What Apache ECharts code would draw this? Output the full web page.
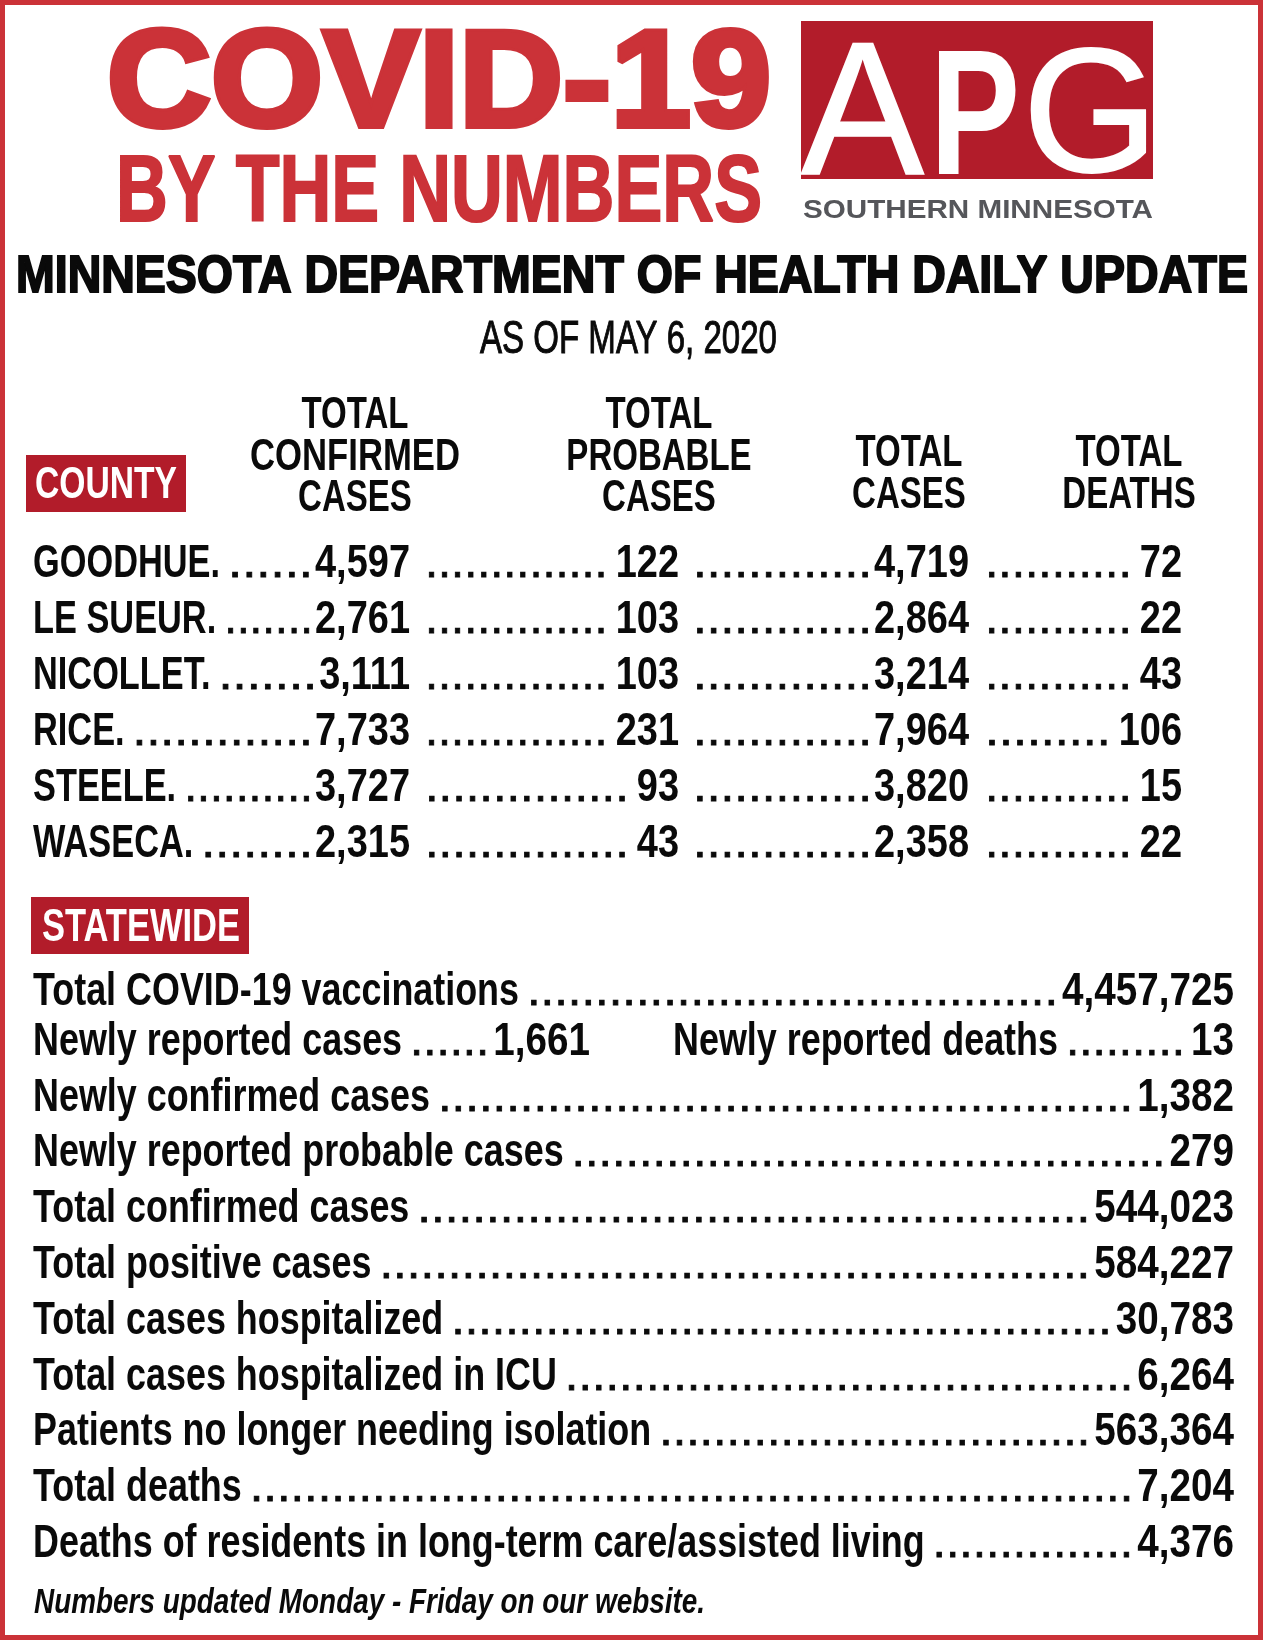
<!DOCTYPE html>
<html>
<head>
<meta charset="utf-8">
<title>COVID-19 by the numbers</title>
<script src="https://cdn.jsdelivr.net/npm/echarts@6/dist/echarts.min.js"></script>
<style>
html, body { margin: 0; padding: 0; background: #fff; }
#main { width: 1263px; height: 1640px; }
</style>
</head>
<body>
<div id="main"></div>
<script>
// county table
var counties = ['GOODHUE.', 'LE SUEUR.', 'NICOLLET.', 'RICE.', 'STEELE.', 'WASECA.'];
var confirmedCases = [4597, 2761, 3111, 7733, 3727, 2315];
var probableCases = [122, 103, 103, 231, 93, 43];
var totalCases = [4719, 2864, 3214, 7964, 3820, 2358];
var totalDeaths = [72, 22, 43, 106, 15, 22];
var columnHeaders = [
    ['TOTAL', 'CONFIRMED', 'CASES'],
    ['TOTAL', 'PROBABLE', 'CASES'],
    ['TOTAL', 'CASES'],
    ['TOTAL', 'DEATHS']
];

// statewide list
var statLabels = [
    'Total COVID-19 vaccinations',
    'Newly reported cases',
    'Newly confirmed cases',
    'Newly reported probable cases',
    'Total confirmed cases',
    'Total positive cases',
    'Total cases hospitalized',
    'Total cases hospitalized in ICU',
    'Patients no longer needing isolation',
    'Total deaths',
    'Deaths of residents in long-term care/assisted living'
];
var statValues = [4457725, 1661, 1382, 279, 544023, 584227, 30783, 6264, 563364, 7204, 4376];
var newDeathsLabel = 'Newly reported deaths';
var newDeathsValue = 13;

var RED = '#cb3238';
var DARK_RED = '#b21c2a';
var INK = '#0a0a0a';
var ROW_FONT = "bold 47px 'Liberation Sans'";
var DOT_FONT = "47px 'Liberation Sans'";

var measureCtx = document.createElement('canvas').getContext('2d');

function textWidth(text, font) {
    measureCtx.font = font;
    return measureCtx.measureText(text).width;
}

function num(v) {
    return v.toLocaleString('en-US');
}

// text anchored at x and cap-centre y, squeezed horizontally by scale
function textEl(text, x, y, font, scale, fill, align, stroke) {
    var size = parseFloat(font.match(/([\d.]+)px/)[1]);
    return {
        type: 'text',
        x: x,
        y: y + size * 0.06,
        scaleX: scale,
        silent: true,
        style: {
            text: text,
            font: font,
            fill: fill || INK,
            align: align || 'left',
            verticalAlign: 'middle',
            stroke: stroke ? (fill || INK) : null,
            lineWidth: stroke || 0
        }
    };
}

function fitEl(text, xLeft, xRight, y, font, fill, stroke) {
    return textEl(text, (xLeft + xRight) / 2, y, font, (xRight - xLeft) / textWidth(text, font), fill, 'center', stroke);
}

// row of dots that fills start..end
function leaderEl(start, end, y, pitch) {
    var count = Math.max(1, Math.round((end - start) / pitch));
    var dots = new Array(count + 1).join('.');
    return textEl(dots, end, y, DOT_FONT, (end - start) / textWidth(dots, DOT_FONT), INK, 'right', 0.8);
}

var countyLabelScale = 187 / textWidth('GOODHUE.', ROW_FONT);
var countyValueScale = 95 / textWidth('4,597', ROW_FONT);
var statLabelScale = 486 / textWidth(statLabels[0], ROW_FONT);
var statValueScale = 172 / textWidth('4,457,725', ROW_FONT);

var columnRight = [410, 679, 969, 1182];
var columnLeaderStart = [0, 425, 693, 985];
var columnData = [confirmedCases, probableCases, totalCases, totalDeaths];

function renderCountyRow(params, api) {
    var i = params.dataIndex;
    var y = api.coord([0, api.value(1)])[1];
    var children = [];
    var labelEnd = 33 + textWidth(counties[i], ROW_FONT) * countyLabelScale;
    children.push(textEl(counties[i], 33, y, ROW_FONT, countyLabelScale));

    for (var c = 0; c < columnData.length; c++) {
        var right = api.coord([columnRight[c], 0])[0];
        var text = num(columnData[c][i]);
        var left = right - textWidth(text, ROW_FONT) * countyValueScale;
        children.push(textEl(text, right, y, ROW_FONT, countyValueScale, INK, 'right'));
        var start = c === 0 ? labelEnd + 8 : columnLeaderStart[c];
        var gap = c === 0 || c === 2 ? 2 : 8;
        children.push(leaderEl(start, left - gap, y, 13.4));
    }
    return { type: 'group', children: children };
}

function renderStatRow(params, api) {
    var i = params.dataIndex;
    var y = api.coord([0, api.value(1)])[1];
    if (i === 0) {
        y += 6; // first line sits a little closer to the next one
    }
    var children = [];
    var labelEnd = 33 + textWidth(statLabels[i], ROW_FONT) * statLabelScale;
    children.push(textEl(statLabels[i], 33, y, ROW_FONT, statLabelScale));

    var right = i === 1 ? 590 : 1234;
    var text = num(statValues[i]);
    var left = right - textWidth(text, ROW_FONT) * statValueScale;
    children.push(textEl(text, right, y, ROW_FONT, statValueScale, INK, 'right'));
    children.push(leaderEl(labelEnd + 8, left - 4, y, 13.6));

    if (i === 1) {
        var deathsEnd = 673 + textWidth(newDeathsLabel, ROW_FONT) * statLabelScale;
        var deathsText = num(newDeathsValue);
        var deathsLeft = 1234 - textWidth(deathsText, ROW_FONT) * statValueScale;
        children.push(textEl(newDeathsLabel, 673, y, ROW_FONT, statLabelScale));
        children.push(textEl(deathsText, 1234, y, ROW_FONT, statValueScale, INK, 'right'));
        children.push(leaderEl(deathsEnd + 8, deathsLeft - 6, y, 13.6));
    }
    return { type: 'group', children: children };
}

function buildHeaderGraphics() {
    var els = [];
    var heavy = "bold 137px 'Liberation Sans'";
    var title = "bold 94px 'Liberation Sans'";

    els.push({ type: 'rect', silent: true, shape: { x: 2.5, y: 2.5, width: 1258, height: 1635 }, style: { fill: null, stroke: RED, lineWidth: 5 } });

    els.push(fitEl('COVID-19', 107, 771, 80, heavy, RED, 6));
    els.push(fitEl('BY THE NUMBERS', 116, 762, 189, title, RED, 2));

    // logo
    els.push({ type: 'rect', silent: true, shape: { x: 801, y: 21, width: 352, height: 158 }, style: { fill: DARK_RED } });
    els.push(fitEl('A', 801, 924, 110, "190px 'Liberation Sans'", '#fff', 1.5));
    els.push(fitEl('P', 930, 1020, 114, "bold 179px 'Liberation Sans'", '#fff'));
    els.push(fitEl('G', 1023, 1158, 112, "176px 'Liberation Sans'", '#fff', 2));
    els.push(fitEl('SOUTHERN MINNESOTA', 803, 1153, 209.5, "bold 26px 'Liberation Sans'", '#55565a'));

    els.push(fitEl('MINNESOTA DEPARTMENT OF HEALTH DAILY UPDATE', 16, 1248, 274.5, "bold 52px 'Liberation Sans'", INK, 2));
    els.push(fitEl('AS OF MAY 6, 2020', 480, 777, 337.5, "46px 'Liberation Sans'", INK, 1));

    // county heading
    var headFont = "bold 44.7px 'Liberation Sans'";
    var headScale = 107 / textWidth('TOTAL', headFont);
    var headCenter = [355, 659, 909, 1129];
    var headBottom = [496, 496, 492.5, 492.5];
    for (var c = 0; c < columnHeaders.length; c++) {
        var lines = columnHeaders[c];
        for (var l = 0; l < lines.length; l++) {
            var y = headBottom[c] - (lines.length - 1 - l) * 41.5;
            var wordScale = lines[l] === 'CONFIRMED' ? headScale * 1.05 : headScale;
            els.push(textEl(lines[l], headCenter[c], y, headFont, wordScale, INK, 'center'));
        }
    }

    els.push({ type: 'rect', silent: true, shape: { x: 26, y: 455, width: 160, height: 57 }, style: { fill: DARK_RED } });
    els.push(fitEl('COUNTY', 35, 177, 483, headFont, '#fff'));

    els.push({ type: 'rect', silent: true, shape: { x: 31, y: 897, width: 218, height: 57 }, style: { fill: DARK_RED } });
    els.push(fitEl('STATEWIDE', 42, 240, 925, ROW_FONT, '#fff'));

    els.push(fitEl('Numbers updated Monday - Friday on our website.', 34, 705, 1601, "italic bold 35px 'Liberation Sans'", INK));
    return els;
}

var chart = echarts.init(document.getElementById('main'), null, { renderer: 'canvas' });

var option = {
    animation: false,
    backgroundColor: '#fff',
    tooltip: { show: false },
    grid: [
        { left: 0, right: 0, top: 533.5, height: 335.4 },
        { left: 0, right: 0, top: 955.3, height: 613.8 }
    ],
    xAxis: [
        { type: 'value', gridIndex: 0, min: 0, max: 1263, show: false },
        { type: 'value', gridIndex: 1, min: 0, max: 1263, show: false }
    ],
    yAxis: [
        { type: 'category', gridIndex: 0, inverse: true, show: false, data: counties },
        { type: 'category', gridIndex: 1, inverse: true, show: false, data: statLabels }
    ],
    graphic: { elements: buildHeaderGraphics() },
    series: [
        {
            type: 'custom',
            xAxisIndex: 0,
            yAxisIndex: 0,
            clip: false,
            silent: true,
            renderItem: renderCountyRow,
            data: counties.map(function(name) { return [0, name]; })
        },
        {
            type: 'custom',
            xAxisIndex: 1,
            yAxisIndex: 1,
            clip: false,
            silent: true,
            renderItem: renderStatRow,
            data: statLabels.map(function(name) { return [0, name]; })
        }
    ]
};
chart.setOption(option);
</script>
</body>
</html>
